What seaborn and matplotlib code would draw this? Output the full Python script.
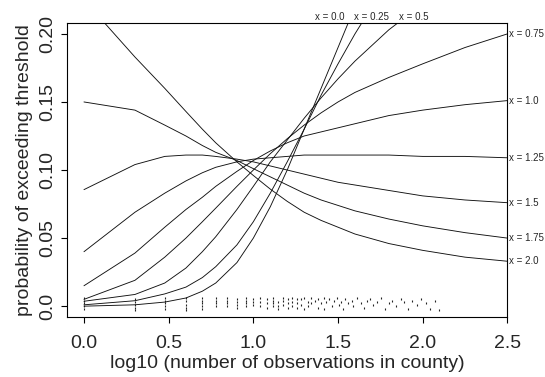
import numpy as np
import pandas as pd
import matplotlib
matplotlib.use("Agg")
import matplotlib.pyplot as plt
import seaborn as sns

# log10(n) grid on which curves are evaluated
logn = [0.0, 0.301, 0.477, 0.602, 0.699, 0.778, 0.903, 1.0, 1.1, 1.2, 1.3, 1.4,
        1.5, 1.6, 1.8, 2.0, 2.25, 2.5]

curve_x00 = [0.000, 0.001, 0.003, 0.006, 0.011, 0.017, 0.032, 0.050, 0.073, 0.100,
             0.130, 0.160, 0.190, 0.220, 0.280, 0.330, 0.380, 0.420]
curve_x025 = [0.001, 0.004, 0.009, 0.014, 0.021, 0.029, 0.045, 0.062, 0.083, 0.106,
              0.130, 0.155, 0.178, 0.200, 0.240, 0.280, 0.320, 0.350]
curve_x05 = [0.0036, 0.0086, 0.017, 0.028, 0.040, 0.051, 0.071, 0.088, 0.106, 0.122,
             0.138, 0.153, 0.167, 0.180, 0.203, 0.222, 0.240, 0.255]
curve_x075 = [0.005, 0.019, 0.036, 0.050, 0.062, 0.072, 0.088, 0.100, 0.112, 0.123,
              0.133, 0.142, 0.150, 0.157, 0.168, 0.178, 0.190, 0.200]
curve_x10 = [0.015, 0.039, 0.058, 0.071, 0.080, 0.088, 0.099, 0.107, 0.114, 0.120,
             0.125, 0.128, 0.131, 0.134, 0.140, 0.144, 0.148, 0.151]
curve_x125 = [0.040, 0.069, 0.083, 0.092, 0.098, 0.102, 0.106, 0.108, 0.109, 0.110,
              0.111, 0.111, 0.111, 0.111, 0.111, 0.110, 0.110, 0.109]
curve_x15 = [0.0856, 0.104, 0.110, 0.111, 0.111, 0.110, 0.108, 0.106, 0.103, 0.100,
             0.097, 0.094, 0.091, 0.089, 0.085, 0.081, 0.078, 0.076]
curve_x175 = [0.150, 0.144, 0.133, 0.125, 0.118, 0.113, 0.107, 0.101, 0.095, 0.089,
              0.083, 0.078, 0.074, 0.070, 0.064, 0.059, 0.054, 0.050]
curve_x20 = [0.225, 0.183, 0.160, 0.143, 0.130, 0.120, 0.106, 0.096, 0.086, 0.077,
             0.069, 0.063, 0.058, 0.053, 0.046, 0.041, 0.036, 0.033]

curve_names = ["x = 0.0", "x = 0.25", "x = 0.5", "x = 0.75", "x = 1.0",
               "x = 1.25", "x = 1.5", "x = 1.75", "x = 2.0"]
curves = [curve_x00, curve_x025, curve_x05, curve_x075, curve_x10,
          curve_x125, curve_x15, curve_x175, curve_x20]

# rug: county sample sizes n (plotted at log10 n) and vertical offsets of the marks
rug_n = ([1]*5 + [2]*5 + [3]*5 + [4]*5 + [5]*5 + [6]*4 + [7]*4 + [8]*4 + [9]*4 +
         [10]*3 + [11]*3 + [12]*3 + [13]*4 + [14]*3 + [15]*3 + [16]*3 + [17]*3 +
         [18]*3 +
         [19, 19, 20, 20, 21, 21, 22, 22, 23, 24, 24, 25, 26, 26, 27, 28, 29, 30,
          31, 32, 33, 34, 35, 36, 38, 39, 41, 43, 45, 47, 49, 51, 54, 57, 60, 63,
          66, 70, 74, 78, 82, 87, 92, 98, 104, 110, 118, 125])
rug_y = ([0.006, 0.004, 0.002, 0.0, -0.002] +
         [0.005, 0.003, 0.001, -0.001, -0.003] +
         [0.006, 0.004, 0.002, 0.0, -0.002] +
         [0.006, 0.0035, 0.001, -0.0015, -0.003] +
         [0.006, 0.004, 0.002, 0.0, -0.002] +
         [0.006, 0.004, 0.002, 0.0] +
         [0.006, 0.004, 0.002, 0.0] +
         [0.005, 0.003, 0.001, -0.001] +
         [0.006, 0.004, 0.002, 0.0] +
         [0.005, 0.003, 0.001] +
         [0.006, 0.003, 0.0] +
         [0.005, 0.002, -0.001] +
         [0.006, 0.004, 0.002, 0.0] +
         [0.003, 0.0, -0.002] +
         [0.006, 0.004, 0.001] +
         [0.005, 0.002, -0.001] +
         [0.006, 0.003, 0.0] +
         [0.005, 0.002, -0.001] +
         [0.005, 0.001, 0.006, -0.002, 0.003, 0.0, 0.006, 0.002, 0.004, -0.001,
          0.005, 0.002, 0.006, -0.002, 0.003, 0.005, 0.0, 0.004, 0.006, 0.001,
          0.003, -0.002, 0.005, 0.002, 0.004, 0.0, 0.006, 0.002, -0.001, 0.004,
          0.005, 0.001, 0.003, 0.006, -0.002, 0.002, 0.004, 0.0, 0.005, 0.003,
          -0.002, 0.004, 0.001, 0.005, 0.002, -0.002, 0.004, -0.003])

rows = []
for name, vals in zip(curve_names, curves):
    for lx, p in zip(logn, vals):
        rows.append({"logn": lx, "prob": p, "curve": name})
df = pd.DataFrame(rows)
rug_df = pd.DataFrame({"logn": np.log10(rug_n), "y": rug_y})

sns.set_theme(style="ticks")
plt.rcParams["font.family"] = ["Liberation Sans", "DejaVu Sans"]

fig = plt.figure(figsize=(5.45, 3.77), dpi=100)
ax = fig.add_axes([0.123, 0.159, 0.808, 0.78])

sns.lineplot(data=df, x="logn", y="prob", units="curve", estimator=None,
             color="#111111", linewidth=0.65, ax=ax, legend=False)
sns.scatterplot(data=rug_df, x="logn", y="y", marker="|", color="#222222",
                s=3, linewidth=0.8, ax=ax, legend=False)

FS = 14
ax.set_xlim(-0.1, 2.5)
ax.set_ylim(-0.008, 0.208)
ax.set_xticks([0.0, 0.5, 1.0, 1.5, 2.0, 2.5])
ax.set_xticklabels(["0.0", "0.5", "1.0", "1.5", "2.0", "2.5"], fontsize=FS)
ax.set_yticks([0.0, 0.05, 0.10, 0.15, 0.20])
ax.set_yticklabels(["0.0", "0.05", "0.10", "0.15", "0.20"], fontsize=FS,
                   rotation=90, va="center")
ax.set_xlabel("log10 (number of observations in county)", fontsize=FS,
              labelpad=2)
ax.set_ylabel("probability of exceeding threshold", fontsize=FS, labelpad=4)
ax.tick_params(axis="both", length=4, width=0.8, color="black")
ax.tick_params(axis="x", pad=9)
ax.tick_params(axis="y", pad=4)
for sp in ax.spines.values():
    sp.set_visible(True)
    sp.set_color("black")
    sp.set_linewidth(0.8)

# right-side labels
for name, vals in zip(curve_names, curves):
    if vals[-1] < 0.205:
        ax.text(2.51, vals[-1], name, fontsize=7, va="center", ha="left",
                clip_on=False)
# top labels
for name, xpos in zip(curve_names[:3], [1.452, 1.70, 1.947]):
    ax.text(xpos, 0.2125, name, fontsize=7, va="center", ha="center",
            clip_on=False)

fig.savefig("out.png", dpi=100)
